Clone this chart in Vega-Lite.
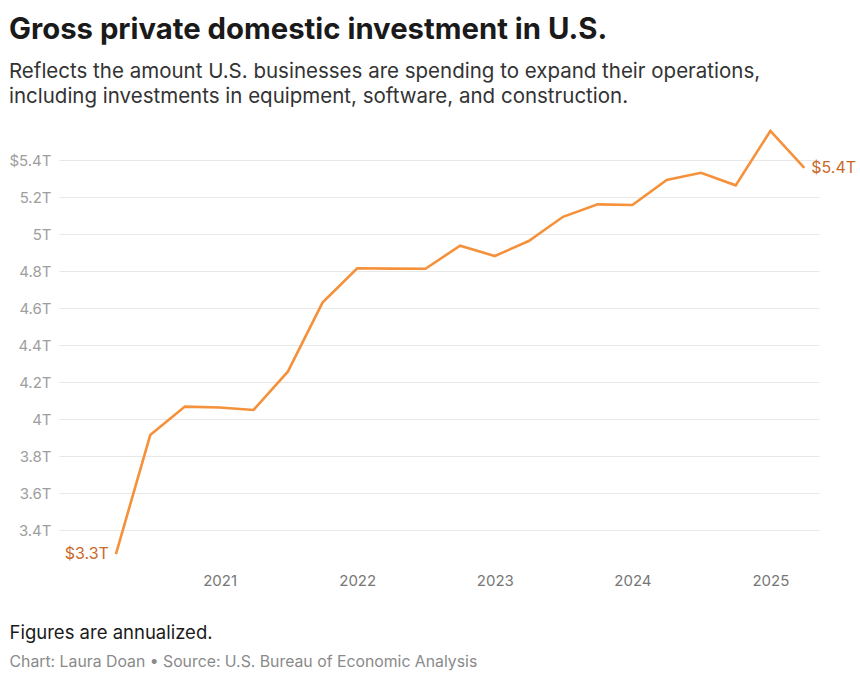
{
  "$schema": "https://vega.github.io/schema/vega-lite/v6.json",
  "width": 760,
  "height": 444,
  "padding": {"left": 8, "top": 16, "right": 5, "bottom": 5},
  "background": "#ffffff",
  "config": {"view": {"stroke": null}, "font": "Inter"},
  "title": {
    "text": "Gross private domestic investment in U.S.",
    "subtitle": ["Reflects the amount U.S. businesses are spending to expand their operations,", "including investments in equipment, software, and construction."],
    "anchor": "start",
    "frame": "bounds",
    "font": "Inter",
    "fontSize": 29.3,
    "fontWeight": 700,
    "color": "#1a1a1a",
    "subtitleFont": "Inter",
    "subtitleFontSize": 20.5,
    "subtitleColor": "#333333",
    "subtitleLineHeight": 25,
    "subtitlePadding": 16,
    "offset": 16
  },
  "data": {
    "values": [
      {"date": "2020-04-01", "value": 3.27, "label": "$3.3T"},
      {"date": "2020-07-01", "value": 3.913},
      {"date": "2020-10-01", "value": 4.067},
      {"date": "2021-01-01", "value": 4.062},
      {"date": "2021-04-01", "value": 4.049},
      {"date": "2021-07-01", "value": 4.256},
      {"date": "2021-10-01", "value": 4.629},
      {"date": "2022-01-01", "value": 4.815},
      {"date": "2022-04-01", "value": 4.813},
      {"date": "2022-07-01", "value": 4.812},
      {"date": "2022-10-01", "value": 4.937},
      {"date": "2023-01-01", "value": 4.881},
      {"date": "2023-04-01", "value": 4.962},
      {"date": "2023-07-01", "value": 5.093},
      {"date": "2023-10-01", "value": 5.16},
      {"date": "2024-01-01", "value": 5.157},
      {"date": "2024-04-01", "value": 5.292},
      {"date": "2024-07-01", "value": 5.331},
      {"date": "2024-10-01", "value": 5.263},
      {"date": "2025-01-01", "value": 5.557},
      {"date": "2025-04-01", "value": 5.358, "label": "$5.4T"}
    ]
  },
  "encoding": {
    "x": {
      "field": "date",
      "type": "temporal",
      "scale": {"domain": [{"year": 2019, "month": 11, "date": 2}, {"year": 2025, "month": 5, "date": 10}]}
    },
    "y": {
      "field": "value",
      "type": "quantitative",
      "scale": {"domain": [3.2, 5.6], "nice": false, "zero": false},
      "axis": {
        "title": null,
        "values": [3.4, 3.6, 3.8, 4.0, 4.2, 4.4, 4.6, 4.8, 5.0, 5.2, 5.4],
        "labelExpr": "(datum.value > 5.39 ? '$' : '') + format(datum.value, '~g') + 'T'",
        "domain": false,
        "ticks": false,
        "grid": true,
        "gridColor": "#e8e8e8",
        "gridWidth": 1.2,
        "labelColor": "#9e9e9e",
        "labelFontSize": 15,
        "labelFont": "Inter",
        "labelPadding": 8
      }
    }
  },
  "layer": [
    {
      "mark": {"type": "line", "color": "#f5913a", "strokeWidth": 2.6, "strokeJoin": "miter"},
      "encoding": {
        "x": {
          "field": "date",
          "type": "temporal",
          "axis": {
            "orient": "bottom",
            "values": [{"year": 2021, "month": 1, "date": 1}, {"year": 2022, "month": 1, "date": 1}, {"year": 2023, "month": 1, "date": 1}, {"year": 2024, "month": 1, "date": 1}, {"year": 2025, "month": 1, "date": 1}],
            "format": "%Y",
            "domain": false,
            "ticks": false,
            "grid": false,
            "labelColor": "#777777",
            "labelFontSize": 15,
            "labelFont": "Inter",
            "labelPadding": 6,
            "title": "Figures are annualized.",
            "titleFont": "Inter",
            "titleFontSize": 18.5,
            "titleFontWeight": 400,
            "titleColor": "#1a1a1a",
            "titleAnchor": null,
            "titleAlign": "left",
            "titleBaseline": "top",
            "titleX": -50,
            "titleY": 56
          }
        }
      }
    },
    {
      "transform": [{"filter": "datum.label && datum.value < 4"}],
      "mark": {"type": "text", "align": "right", "baseline": "middle", "dx": -7, "color": "#c8692a", "fontSize": 16, "font": "Inter"},
      "encoding": {
        "text": {"field": "label"},
        "x": {
          "field": "date",
          "type": "temporal",
          "axis": {
            "orient": "bottom",
            "labels": false,
            "domain": false,
            "ticks": false,
            "grid": false,
            "title": "Chart: Laura Doan • Source: U.S. Bureau of Economic Analysis",
            "titleFont": "Inter",
            "titleFontSize": 15.8,
            "titleFontWeight": 400,
            "titleColor": "#8a8a8a",
            "titleAnchor": null,
            "titleAlign": "left",
            "titleBaseline": "top",
            "titleX": -50,
            "titleY": 87
          }
        }
      }
    },
    {
      "transform": [{"filter": "datum.label && datum.value > 4"}],
      "mark": {"type": "text", "align": "left", "baseline": "middle", "dx": 7, "color": "#c8692a", "fontSize": 16, "font": "Inter"},
      "encoding": {
        "text": {"field": "label"},
        "x": {"field": "date", "type": "temporal", "axis": null}
      }
    }
  ],
  "resolve": {"axis": {"x": "independent"}}
}
